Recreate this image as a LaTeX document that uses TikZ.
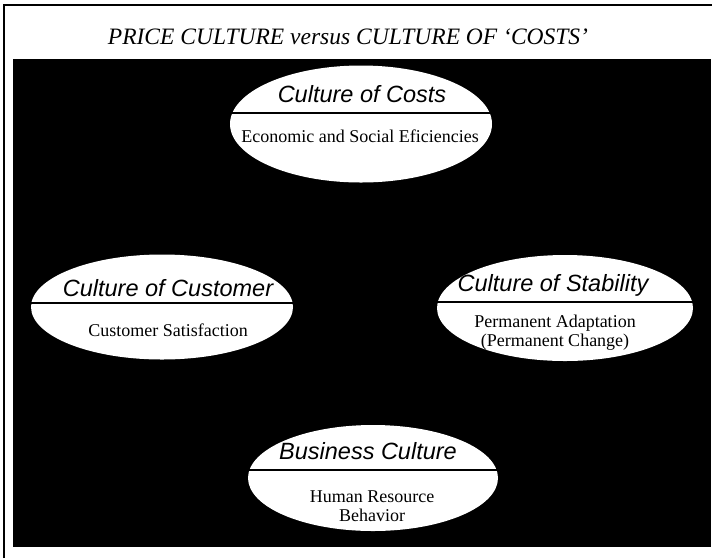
\documentclass[tikz,border=0pt]{standalone}
\usepackage{fontspec}
\setmainfont{Liberation Serif}
\newfontfamily\ovalfont{Liberation Sans}
\usetikzlibrary{shapes.geometric}

\begin{document}
\begin{tikzpicture}[x=1pt,y=-1pt,
        oval/.style 2 args={ellipse,fill=white,inner sep=0pt,minimum width=#1,minimum height=#2},
        divider/.style={line width=1.2pt},
        ovaltitle/.style={font=\ovalfont\itshape\fontsize{23.5}{26}\selectfont},
        ovaltext/.style={font=\fontsize{18}{19}\selectfont,align=center}]
        \useasboundingbox (0,0) rectangle (712,558);
        % frame and heading
        \draw[line width=1.5pt] (4,558) -- (4,5) -- (712,5);
        \node[font=\itshape\fontsize{23.5}{26}\selectfont] (heading) at (348,37)
              {PRICE CULTURE versus CULTURE OF `COSTS'};
        \fill (13,59) rectangle (711,547);
        % top
        \node[oval={262}{117}] (costs) at (361,124) {};
        \draw[divider] ([yshift=11pt]costs.west) -- ([yshift=11pt]costs.east);
        \node[ovaltitle] (costs title) at (362,94) {Culture of Costs};
        \node[ovaltext] (costs text) at (360,136) {Economic and Social Eficiencies};
        % left
        \node[oval={262}{105}] (customer) at (162,307) {};
        \draw[divider] ([yshift=4pt]customer.west) -- ([yshift=4pt]customer.east);
        \node[ovaltitle] (customer title) at (168,288) {Culture of Customer};
        \node[ovaltext] (customer text) at (168,330) {Customer Satisfaction};
        % right
        \node[oval={256}{106}] (stability) at (565,308) {};
        \draw[divider] ([yshift=6pt]stability.west) -- ([yshift=6pt]stability.east);
        \node[ovaltitle] (stability title) at (553,285) {Culture of Stability};
        \node[ovaltext] (stability text) at (555,333) {Permanent Adaptation\\(Permanent Change)};
        % bottom
        \node[oval={250}{106}] (business) at (373,478) {};
        \draw[divider] ([yshift=8pt]business.west) -- ([yshift=8pt]business.east);
        \node[ovaltitle] (business title) at (368,451) {Business Culture};
        \node[ovaltext] (business text) at (372,506) {Human Resource\\Behavior};
\end{tikzpicture}
\end{document}
